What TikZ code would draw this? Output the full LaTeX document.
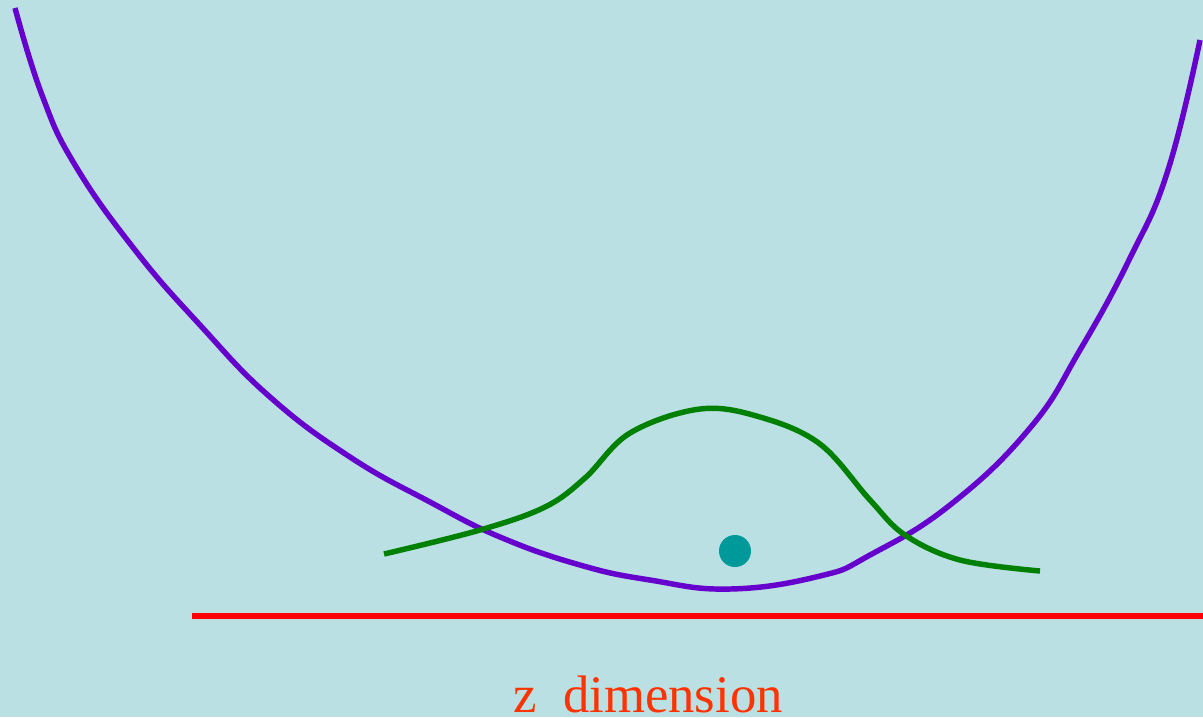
\documentclass[tikz,border=0pt]{standalone}
\usepackage{fontspec}
\setmainfont{Liberation Serif}
\definecolor{bg}{RGB}{186,224,227}
\definecolor{curvepurple}{RGB}{102,0,204}
\definecolor{curvegreen}{RGB}{0,128,0}
\definecolor{dotteal}{RGB}{0,153,153}
\definecolor{labelred}{RGB}{255,51,0}
\tikzset{
  curve/.style={line width=1.55pt, line join=round},
}
\begin{document}
\begin{tikzpicture}[x=0.01cm,y=-0.01cm]
\fill[bg] (0,0) rectangle (1203,717);
\useasboundingbox (0,0) rectangle (1203,717);
% potential well
\draw[curve, curvepurple] plot[smooth, tension=0.75] coordinates {
 (15,8) (42,95) (75,165) (135,250) (200,325) (270,397) (350,457) (430,502) (500,537) (580,565) (650,580) (730,589) (820,576) (870,555) (950,505) (1030,428) (1080,350) (1130,258) (1168,170) (1200,40)};
% wave packet
\draw[curve, curvegreen] plot[smooth, tension=0.6] coordinates {
 (384,554) (480,530) (545,507) (585,478) (630,433) (700,409) (760,417) (820,444) (870,500) (905,535) (960,560) (1040,571)};
% axis
\coordinate (axL) at (192,616);
\coordinate (axR) at (1203,616);
\draw[line width=1.55pt, red] (axL) -- (axR);
\node[circle, fill=dotteal, minimum size=0.32cm, inner sep=0pt] (dot) at (735,551) {};
\node[text=labelred, font=\fontsize{15}{18}\selectfont, anchor=base, inner sep=0pt] (lbl) at (648,712) {z\ \ dimension};
\end{tikzpicture}
\end{document}
